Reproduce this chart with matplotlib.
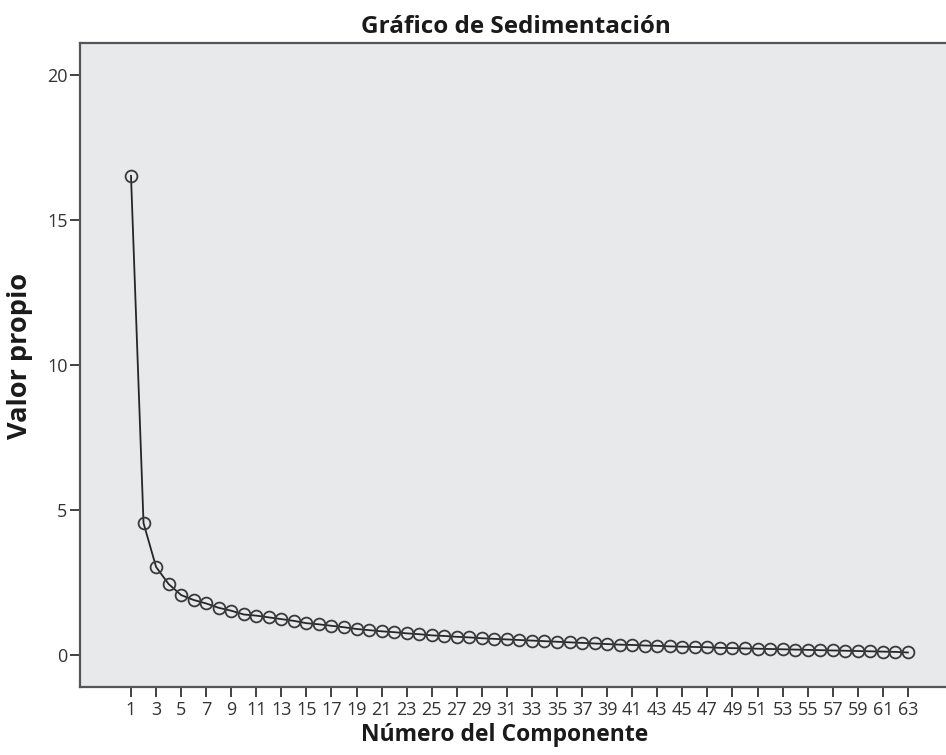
import numpy as np
import matplotlib
matplotlib.use("Agg")
import matplotlib.pyplot as plt

# 데이터
componentes = list(range(1, 64))
valores_propios = [
    16.52, 4.55, 3.04, 2.45, 2.07, 1.90, 1.78, 1.63, 1.53, 1.40,
    1.36, 1.30, 1.24, 1.18, 1.10, 1.06, 1.01, 0.96, 0.90, 0.86,
    0.82, 0.79, 0.75, 0.72, 0.68, 0.66, 0.63, 0.61, 0.58, 0.56,
    0.54, 0.52, 0.50, 0.48, 0.46, 0.44, 0.42, 0.40, 0.38, 0.36,
    0.35, 0.33, 0.32, 0.30, 0.29, 0.28, 0.27, 0.25, 0.24, 0.23,
    0.22, 0.21, 0.20, 0.19, 0.18, 0.17, 0.16, 0.15, 0.14, 0.13,
    0.12, 0.11, 0.09,
]
x_ticks = list(range(1, 64, 2))
y_ticks = [0, 5, 10, 15, 20]

plt.rcParams["font.family"] = ["Open Sans", "DejaVu Sans"]

fig = plt.figure(figsize=(9.46, 7.55), dpi=100)
ax = fig.add_axes([80 / 946, 1 - 687 / 755, 878 / 946, (687 - 43) / 755])
ax.set_facecolor("#e8e9eb")

ax.plot(componentes, valores_propios, color="#262626", linewidth=1.3,
        marker="o", markersize=8.5, markerfacecolor="none",
        markeredgecolor="#3a3a3a", markeredgewidth=1.3)

ax.set_xlim(-3.07, 67.0)
ax.set_ylim(-1.1, 21.1)
ax.set_xticks(x_ticks)
ax.set_yticks(y_ticks)
ax.tick_params(axis="both", colors="#333333", labelsize=13,
               length=7, width=1.3, direction="out")
ax.tick_params(axis="x", pad=3)
ax.tick_params(axis="y", pad=2)

for s in ax.spines.values():
    s.set_color("#555555")
    s.set_linewidth(1.6)

fig.text(0.545, 1 - 27 / 755, "Gráfico de Sedimentación", ha="center",
         va="center", fontsize=17.5, fontweight="bold", color="#1a1a1a")
fig.text(20 / 946, 1 - 356 / 755, "Valor propio", ha="center", va="center",
         rotation=90, fontsize=19.5, fontweight="bold", color="#1a1a1a")
fig.text(505 / 946, 1 - 735 / 755, "Número del Componente", ha="center",
         va="center", fontsize=16.5, fontweight="bold", color="#1a1a1a")

fig.savefig("out.png", dpi=100)
